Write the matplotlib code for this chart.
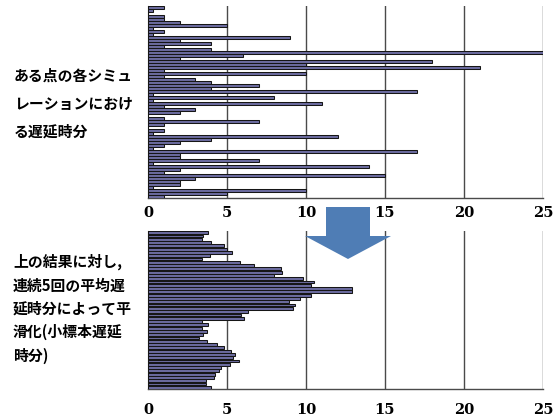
import matplotlib
matplotlib.use("Agg")
import matplotlib.pyplot as plt
import numpy as np

# Delay minutes per simulation run at one point (top panel)
raw_delay = [1, 0.3, 0, 1, 1, 2, 5, 0.3, 1, 0.3, 9, 2, 4, 1, 4, 25,
             6, 2, 18, 10, 21, 1, 10, 1, 3, 4, 7, 4, 17, 0.3, 8, 0.3,
             11, 1, 3, 2, 0, 1, 7, 1, 0, 1, 0.3, 12, 4, 2, 1, 0.3,
             17, 2, 2, 7, 0.3, 14, 2, 1, 15, 3, 2, 2, 0.3, 10, 5, 1]

# Smoothed delay: mean over 5 consecutive runs (bottom panel)
smoothed_delay = [3.8, 3.5, 3.4, 4.0, 4.8, 5.0, 5.3, 3.9, 3.4, 5.8, 6.7, 8.4,
                  8.5, 8.0, 9.8, 10.5, 10.3, 12.9, 12.9, 10.3, 9.6, 8.9, 9.3, 9.2,
                  6.3, 5.9, 6.1, 3.4, 3.8, 3.4, 3.75, 3.5, 3.2, 3.75, 4.35, 4.8,
                  5.25, 5.5, 5.35, 5.75, 5.2, 4.6, 4.5, 4.25, 4.2, 3.7, 3.7, 4.0]

x_ticks = [0, 5, 10, 15, 20, 25]

label_top = "ある点の各シミュ\nレーションにおけ\nる遅延時分"
label_bottom = "上の結果に対し,\n連続5回の平均遅\n延時分によって平\n滑化(小標本遅延\n時分)"

BAR_FILL = "#6c6ca0"
BAR_EDGE = "#161616"
GRID = "#4a4a4a"
ARROW = "#4f7db5"

W, H = 557, 418
fig = plt.figure(figsize=(W / 100, H / 100), dpi=100)

left = 148 / W
width = (543 - 148) / W


def panel(y_top, y_bot, values, pad):
    ax = fig.add_axes([left, 1 - y_bot / H, width, (y_bot - y_top) / H])
    pos = np.arange(len(values))
    ax.barh(pos, values, height=0.85, color=BAR_FILL, edgecolor=BAR_EDGE,
            linewidth=0.75, zorder=3)
    ax.set_xlim(0, 25)
    ax.set_ylim(len(values) - 0.5, -0.5)
    ax.set_xticks(x_ticks)
    ax.set_xticklabels([str(t) for t in x_ticks], family="DejaVu Serif",
                       fontweight="bold", fontsize=10.5)
    ax.set_yticks([])
    ax.tick_params(axis="x", length=0, pad=pad)
    for t in x_ticks[1:]:
        ax.axvline(t, color=GRID, linewidth=1.0, zorder=1)
    for s in ("top", "right"):
        ax.spines[s].set_visible(False)
    ax.spines["left"].set_color(BAR_EDGE)
    ax.spines["left"].set_linewidth(0.8)
    ax.spines["bottom"].set_color(GRID)
    ax.spines["bottom"].set_linewidth(1.0)
    ax.patch.set_alpha(0)
    return ax


ax_top = panel(6, 198, raw_delay, pad=6)
ax_bot = panel(231, 389, smoothed_delay, pad=10)

jp = ["Noto Sans CJK JP", "DejaVu Sans"]
fig.text(14 / W, 1 - 68 / H, label_top, family=jp, fontweight="bold",
         fontsize=10.7, va="top", ha="left", linespacing=1.9)
fig.text(13 / W, 1 - 254 / H, label_bottom, family=jp, fontweight="bold",
         fontsize=10.7, va="top", ha="left", linespacing=1.55)

# Downward block arrow between the two panels
arrow_ax = fig.add_axes([0, 0, 1, 1])
arrow_ax.set_xlim(0, W)
arrow_ax.set_ylim(H, 0)
arrow_ax.axis("off")
shaft_l, shaft_r = 326, 370
head_l, head_r = 305, 391
y0, y_head, y_tip = 207, 236, 259
xc = (head_l + head_r) / 2
poly = [(shaft_l, y0), (shaft_r, y0), (shaft_r, y_head), (head_r, y_head),
        (xc, y_tip), (head_l, y_head), (shaft_l, y_head)]
arrow_ax.add_patch(plt.Polygon(poly, closed=True, facecolor=ARROW,
                               edgecolor="none", zorder=5))

fig.savefig("out.png", dpi=100, facecolor="white")
